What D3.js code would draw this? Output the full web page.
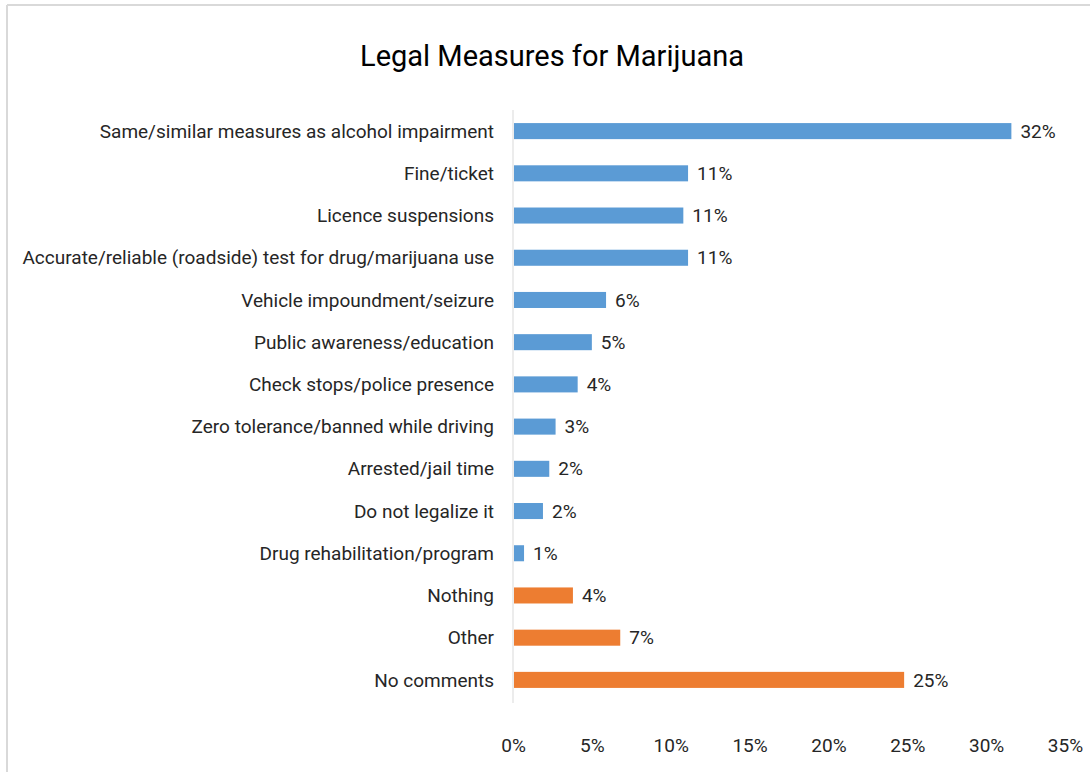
<!DOCTYPE html>
<html>
<head>
<meta charset="utf-8">
<script src="https://cdn.jsdelivr.net/npm/d3@7"></script>
<style>
  body { margin: 0; background: #fff; }
  svg text { font-family: Roboto, "Open Sans", sans-serif; fill: #262626; }
</style>
</head>
<body>
<div id="chart"></div>
<script>
// categories top to bottom
const categories = [
  "Same/similar measures as alcohol impairment",
  "Fine/ticket",
  "Licence suspensions",
  "Accurate/reliable (roadside) test for drug/marijuana use",
  "Vehicle impoundment/seizure",
  "Public awareness/education",
  "Check stops/police presence",
  "Zero tolerance/banned while driving",
  "Arrested/jail time",
  "Do not legalize it",
  "Drug rehabilitation/program",
  "Nothing",
  "Other",
  "No comments"
]
// share of responses (%)
const values = [31.6, 11.1, 10.8, 11.1, 5.9, 5.0, 4.1, 2.7, 2.3, 1.9, 0.7, 3.8, 6.8, 24.8]
// printed labels
const valueLabels = ["32%", "11%", "11%", "11%", "6%", "5%", "4%", "3%", "2%", "2%", "1%", "4%", "7%", "25%"]
// group: measure vs non-answer
const groups = ["m","m","m","m","m","m","m","m","m","m","m","n","n","n"]
const xTicks = [0, 5, 10, 15, 20, 25, 30, 35]

const width = 1090, height = 772

const svg = d3.select("#chart")
  .append("svg")
    .attr("width", width)
    .attr("height", height)

// chart frame (only top and left edges visible)
svg.append("line").attr("x1", 7).attr("x2", width).attr("y1", 5).attr("y2", 5)
  .attr("stroke", "#d9d9d9").attr("stroke-width", 2)
svg.append("line").attr("x1", 7).attr("x2", 7).attr("y1", 5).attr("y2", height)
  .attr("stroke", "#d9d9d9").attr("stroke-width", 2)

svg.append("text")
  .attr("x", 552).attr("y", 66)
  .attr("text-anchor", "middle")
  .style("font-size", "29px")
  .style("fill", "#000")
  .text("Legal Measures for Marijuana")

const x = d3.scaleLinear().domain([0, 35]).range([513, 1065])
const y = d3.scaleBand().domain(categories).range([110, 701]).paddingInner(0.62).paddingOuter(0.31)

const color = d3.scaleOrdinal().domain(["m", "n"]).range(["#5b9bd5", "#ed7d31"])

// vertical axis line
svg.append("line")
  .attr("x1", x(0)).attr("x2", x(0))
  .attr("y1", 110).attr("y2", 703)
  .attr("stroke", "#d9d9d9").attr("stroke-width", 1)

const data = categories.map((c, i) => ({ cat: c, v: values[i], lab: valueLabels[i], g: groups[i] }))

svg.selectAll("rect.bar")
  .data(data)
  .join("rect")
    .attr("class", "bar")
    .attr("x", x(0) + 1)
    .attr("y", d => y(d.cat))
    .attr("width", d => x(d.v) - x(0) - 1)
    .attr("height", y.bandwidth())
    .attr("fill", d => color(d.g))

svg.selectAll("text.val")
  .data(data)
  .join("text")
    .attr("class", "val")
    .attr("x", d => x(d.v) + 9)
    .attr("y", d => y(d.cat) + y.bandwidth() / 2)
    .attr("dy", "0.35em")
    .style("font-size", "19px")
    .text(d => d.lab)

svg.selectAll("text.cat")
  .data(data)
  .join("text")
    .attr("class", "cat")
    .attr("x", 494)
    .attr("y", d => y(d.cat) + y.bandwidth() / 2)
    .attr("dy", "0.35em")
    .attr("text-anchor", "end")
    .style("font-size", "19px")
    .text(d => d.cat)

// x axis tick labels, no line
const xAxis = svg.append("g")
  .attr("transform", "translate(0,735)")
  .call(d3.axisBottom(x).tickValues(xTicks).tickFormat(d => d + "%").tickSize(0))
xAxis.select(".domain").remove()
xAxis.selectAll("text")
  .style("font-size", "19px")
  .style("font-family", "Roboto, \"Open Sans\", sans-serif")
  .attr("fill", "#262626")
</script>
</body>
</html>
